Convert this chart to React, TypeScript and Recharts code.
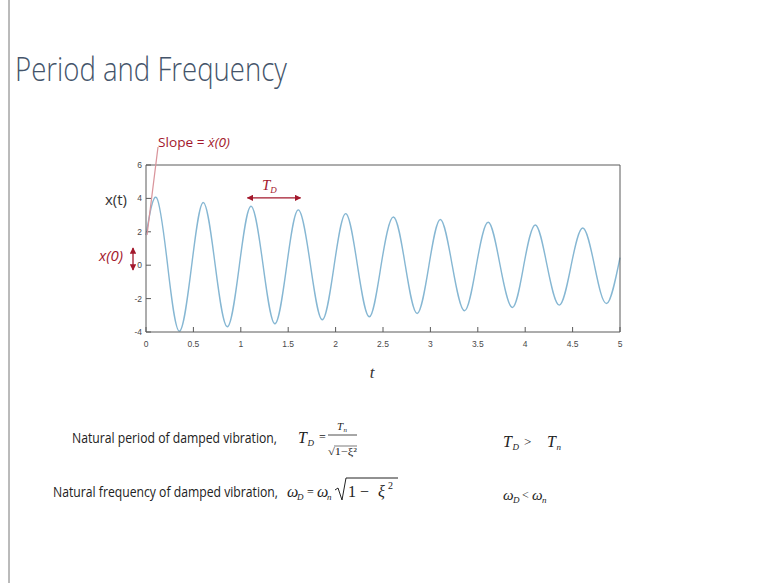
import React from "react";
import { LineChart, Line, XAxis, YAxis, ReferenceLine } from "recharts";

// values: peaks, zero crossings and troughs of x(t)
const timeValues = [
  0, 0.113, 0.228, 0.352, 0.482, 0.605, 0.73, 0.858, 0.985, 1.108, 1.235, 1.36,
  1.485, 1.607, 1.735, 1.86, 1.985, 2.107, 2.23, 2.356, 2.48, 2.61, 2.735, 2.86,
  2.985, 3.105, 3.23, 3.36, 3.485, 3.61, 3.735, 3.865, 3.985, 4.107, 4.23, 4.36,
  4.485, 4.607, 4.73, 4.86, 5.0,
];
const displacement = [
  1.8, 4.03, 0, -3.95, 0, 3.75, 0, -3.69, 0, 3.53, 0, -3.51, 0, 3.31, 0, -3.27,
  0, 3.09, 0, -3.09, 0, 2.89, 0, -2.89, 0, 2.74, 0, -2.73, 0, 2.57, 0, -2.53, 0,
  2.41, 0, -2.39, 0, 2.23, 0, -2.29, 0.46,
];
const xTicks = [0, 0.5, 1, 1.5, 2, 2.5, 3, 3.5, 4, 4.5, 5];
const yTicks = [-4, -2, 0, 2, 4, 6];
// T_D arrow spans peak 3 to peak 4
const periodStart = 1.07;
const periodEnd = 1.63;
const periodLevel = 4.03;

const data = timeValues.map((t, i) => ({ t, x: displacement[i] }));

const RED = "#a3182c";
const AXIS = "#5a5a5a";
const INK = "#222";
const tickStyle = { fill: "#4a4a4a", fontSize: 8.5, fontFamily: "Liberation Sans" };
const serif = "Liberation Serif";
const sans = "Open Sans";

export default function App() {
  return (
    <div
      style={{
        position: "absolute",
        left: 0,
        top: 0,
        width: 765,
        height: 583,
        background: "#fff",
        overflow: "hidden",
      }}
    >
      <LineChart
        width={765}
        height={583}
        data={data}
        margin={{ top: 164, right: 144, bottom: 221, left: 116 }}
      >
        <defs>
          <marker id="redHead" viewBox="0 0 10 10" refX="9" refY="5" markerWidth="5" markerHeight="5" orient="auto-start-reverse">
            <path d="M0,0 L10,5 L0,10 z" fill={RED} />
          </marker>
        </defs>
        <XAxis
          dataKey="t"
          type="number"
          domain={[0, 5]}
          ticks={xTicks}
          interval={0}
          height={30}
          tickSize={-5}
          tickMargin={14}
          stroke={AXIS}
          tick={tickStyle}
        />
        <XAxis
          xAxisId="top"
          orientation="top"
          type="number"
          domain={[0, 5]}
          ticks={xTicks}
          interval={0}
          height={1}
          tickSize={-5}
          tick={false}
          stroke={AXIS}
        />
        <YAxis
          type="number"
          domain={[-4, 6]}
          ticks={yTicks}
          interval={0}
          width={30}
          tickSize={-5}
          tickMargin={9}
          stroke={AXIS}
          tick={tickStyle}
        />
        <YAxis
          yAxisId="right"
          orientation="right"
          type="number"
          domain={[-4, 6]}
          ticks={yTicks}
          interval={0}
          width={1}
          tickSize={-5}
          tick={false}
          stroke={AXIS}
        />
        <Line
          type="natural"
          dataKey="x"
          stroke="#86b7d3"
          strokeWidth={1.4}
          dot={false}
          isAnimationActive={false}
        />
        <ReferenceLine
          segment={[
            { x: periodStart, y: periodLevel },
            { x: periodEnd, y: periodLevel },
          ]}
          stroke={RED}
          strokeWidth={1.3}
          markerStart="url(#redHead)"
          markerEnd="url(#redHead)"
          ifOverflow="visible"
        />
      </LineChart>
      <svg
        width={765}
        height={583}
        style={{ position: "absolute", left: 0, top: 0, pointerEvents: "none" }}
      >
        <defs>
          <marker id="redHead2" viewBox="0 0 10 10" refX="9" refY="5" markerWidth="5" markerHeight="5" orient="auto-start-reverse">
            <path d="M0,0 L10,5 L0,10 z" fill={RED} />
          </marker>
        </defs>
        <line x1={9} y1={0} x2={9} y2={583} stroke="#777" strokeWidth={1} />
        <text x={15} y={81} fontFamily={sans} fontWeight={300} fontSize={33} fill="#44546a" textLength={272} lengthAdjust="spacingAndGlyphs">
          Period and Frequency
        </text>

        {/* annotations on the plot */}
        <text x={158} y={147} fontFamily={sans} fontSize={13.5} fill={RED} textLength={72} lengthAdjust="spacingAndGlyphs">
          Slope = <tspan fontStyle="italic">ẋ(0)</tspan>
        </text>
        <line x1={158} y1={147} x2={147} y2={235} stroke="#d9959c" strokeWidth={1.2} />
        <text x={105} y={205} fontFamily={sans} fontSize={14} fill="#333" textLength={22} lengthAdjust="spacingAndGlyphs">
          x(t)
        </text>
        <text x={99} y={261} fontFamily={sans} fontStyle="italic" fontSize={14} fill={RED} textLength={24} lengthAdjust="spacingAndGlyphs">
          x(0)
        </text>
        <line x1={133} y1={248} x2={133} y2={270} stroke={RED} strokeWidth={1.3} markerStart="url(#redHead2)" markerEnd="url(#redHead2)" />
        <text x={262} y={190} fontFamily={serif} fontStyle="italic" fontSize={15} fill={RED}>
          T<tspan fontSize={9} dy={3}>D</tspan>
        </text>
        <text x={372} y={378} fontFamily={serif} fontStyle="italic" fontSize={17} fill="#333" textAnchor="middle">
          t
        </text>

        {/* formulas */}
        <text x={72} y={443} fontFamily={sans} fontSize={15} fill={INK} textLength={205} lengthAdjust="spacingAndGlyphs">
          Natural period of damped vibration,
        </text>
        <text fontFamily={serif} fill={INK}>
          <tspan x={298} y={443} fontStyle="italic" fontSize={16}>T</tspan>
          <tspan x={307.5} y={446} fontStyle="italic" fontSize={9}>D</tspan>
          <tspan x={319} y={441} fontSize={12}>=</tspan>
          <tspan x={337} y={430} fontStyle="italic" fontSize={11}>T</tspan>
          <tspan x={343.5} y={432} fontStyle="italic" fontSize={7}>n</tspan>
        </text>
        <line x1={328} y1={435} x2={357} y2={435} stroke={INK} strokeWidth={0.8} />
        <text x={328} y={455} fontFamily={serif} fontSize={10} fill={INK} textLength={29} lengthAdjust="spacingAndGlyphs">
          √1−ξ²
        </text>
        <line x1={334} y1={446} x2={357} y2={446} stroke={INK} strokeWidth={0.6} />

        <text x={53} y={497} fontFamily={sans} fontSize={15} fill={INK} textLength={225} lengthAdjust="spacingAndGlyphs">
          Natural frequency of damped vibration,
        </text>
        <text fontFamily={serif} fill={INK}>
          <tspan x={287} y={497} fontStyle="italic" fontSize={16}>ω</tspan>
          <tspan x={297} y={500} fontStyle="italic" fontSize={9}>D</tspan>
          <tspan x={307} y={496} fontSize={12}>=</tspan>
          <tspan x={317} y={497} fontStyle="italic" fontSize={16}>ω</tspan>
          <tspan x={327} y={500} fontStyle="italic" fontSize={9}>n</tspan>
          <tspan x={348} y={497} fontSize={16}>1</tspan>
          <tspan x={360} y={497} fontSize={16}>−</tspan>
          <tspan x={378} y={497} fontStyle="italic" fontSize={16}>ξ</tspan>
          <tspan x={388} y={489} fontSize={10}>2</tspan>
        </text>
        <path d="M335,490 L338,488 L342,500 L346,478 L398,478" fill="none" stroke={INK} strokeWidth={1} />

        <text fontFamily={serif} fill={INK}>
          <tspan x={503} y={447} fontStyle="italic" fontSize={16}>T</tspan>
          <tspan x={512.5} y={450} fontStyle="italic" fontSize={9}>D</tspan>
          <tspan x={524} y={446} fontSize={13}>&gt;</tspan>
          <tspan x={547} y={447} fontStyle="italic" fontSize={16}>T</tspan>
          <tspan x={556.5} y={450} fontStyle="italic" fontSize={9}>n</tspan>
        </text>
        <text fontFamily={serif} fill={INK}>
          <tspan x={503} y={500} fontStyle="italic" fontSize={15}>ω</tspan>
          <tspan x={513} y={503} fontStyle="italic" fontSize={9}>D</tspan>
          <tspan x={522} y={499} fontSize={12}>&lt;</tspan>
          <tspan x={532} y={500} fontStyle="italic" fontSize={15}>ω</tspan>
          <tspan x={542} y={503} fontStyle="italic" fontSize={9}>n</tspan>
        </text>
      </svg>
    </div>
  );
}
